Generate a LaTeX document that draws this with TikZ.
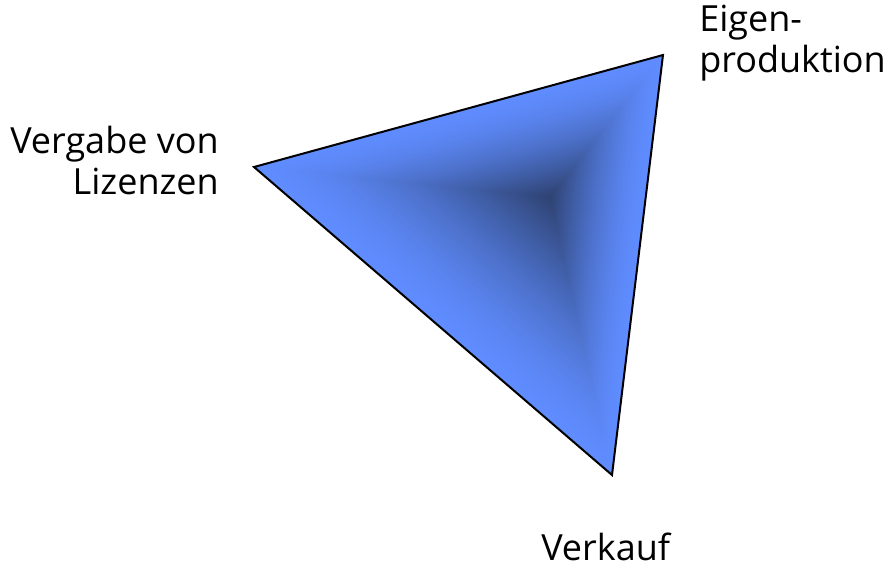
\documentclass[tikz,border=0pt]{standalone}
\usepackage{fontspec}
\setmainfont{Open Sans}
\usetikzlibrary{calc,positioning}
\definecolor{rimblue}{HTML}{5F8CFF}
\definecolor{coreblue}{HTML}{2E4270}
\begin{document}
\begin{tikzpicture}[x=0.75pt,y=-0.75pt,
  lbl/.style={font=\fontsize{27}{30.5}\selectfont,inner sep=0pt}]
\useasboundingbox (0,0) rectangle (893,569);
\coordinate (ep) at (663,55);
\coordinate (vl) at (254,167);
\coordinate (vk) at (612,475);
\coordinate (core) at (550,197);
% shading from the rim towards the dark core
\foreach \i in {0,...,60}{
  \pgfmathsetmacro{\s}{1-\i/60}
  \pgfmathsetmacro{\p}{100*(\i/60)^1.5}
  \fill[coreblue!\p!rimblue] ($(core)!\s!(ep)$) -- ($(core)!\s!(vl)$) -- ($(core)!\s!(vk)$) -- cycle;
}
\draw[line width=1.5pt,line join=miter] (ep) -- (vl) -- (vk) -- cycle;
\node[lbl,align=left,anchor=north west] (eigen) at (699,5) {Eigen-\\produktion};
\node[lbl,align=right,anchor=north east] (vergabe) at (219,126) {Vergabe von\\Lizenzen};
\node[lbl,anchor=north west] (verkauf) at (541,533) {Verkauf};
\end{tikzpicture}
\end{document}
